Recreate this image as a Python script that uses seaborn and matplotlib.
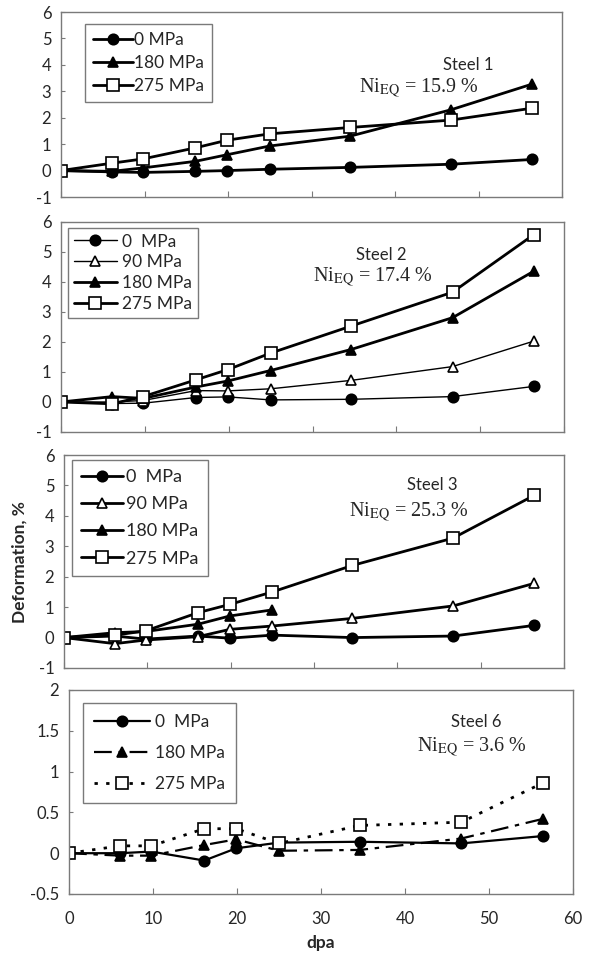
import matplotlib
matplotlib.use('Agg')
import matplotlib.pyplot as plt
import seaborn as sns

# ---------------- data ----------------
dpa = [0, 6.1, 9.8, 16.1, 19.9, 25.0, 34.6, 46.7, 56.4]

s1_0 = [0, -0.05, -0.07, -0.03, 0.0, 0.05, 0.12, 0.24, 0.42]
s1_180 = [0, -0.03, 0.10, 0.35, 0.60, 0.93, 1.30, 2.30, 3.27]
s1_275 = [0, 0.28, 0.44, 0.86, 1.15, 1.39, 1.63, 1.91, 2.36]

s2_0 = [0, -0.05, -0.04, 0.15, 0.17, 0.07, 0.09, 0.18, 0.52]
s2_90 = [0, 0.0, 0.05, 0.38, 0.37, 0.44, 0.72, 1.18, 2.03]
s2_180 = [0, 0.18, 0.12, 0.50, 0.70, 1.05, 1.75, 2.81, 4.36]
s2_275 = [0, -0.06, 0.18, 0.74, 1.08, 1.63, 2.53, 3.66, 5.58]

s3_0 = [0, 0.05, -0.05, 0.05, -0.02, 0.08, 0.0, 0.05, 0.40]
s3_90 = [0, -0.20, -0.08, 0.03, 0.27, 0.38, 0.63, 1.04, 1.78]
s3_180 = [0, 0.16, 0.20, 0.44, 0.71, 0.91]
s3_275 = [0, 0.08, 0.22, 0.82, 1.09, 1.50, 2.37, 3.27, 4.67]

s6_0 = [0, 0.0, 0.02, -0.09, 0.06, 0.13, 0.14, 0.12, 0.21]
s6_180 = [0, -0.03, -0.03, 0.10, 0.17, 0.03, 0.04, 0.18, 0.42]
s6_275 = [0, 0.09, 0.09, 0.30, 0.30, 0.12, 0.34, 0.38, 0.86]

x_ticks = [0, 10, 20, 30, 40, 50, 60]
y_ticks_main = [-1, 0, 1, 2, 3, 4, 5, 6]
y_ticks_s6 = [-0.5, 0, 0.5, 1, 1.5, 2]
y_tick_labels_s6 = ["-0.5", "0", "0.5", "1", "1.5", "2"]

# ---------------- style ----------------
sns.set_theme(style='white')
plt.rcParams['font.family'] = ['Lato', 'DejaVu Sans']
plt.rcParams['mathtext.fontset'] = 'stix'

W, H = 594, 957
fig = plt.figure(figsize=(W / 100, H / 100), dpi=100)
GRAY = '#7a7a7a'


def axes_px(l, r, t, b):
    return fig.add_axes([l / W, 1 - b / H, (r - l) / W, (b - t) / H])


def style_axes(ax, ylim, yticks, ylabels=None, show_x=False):
    ax.set_xlim(0, 60)
    ax.set_ylim(*ylim)
    ax.set_xticks(x_ticks)
    ax.set_yticks(yticks)
    if ylabels is None:
        ylabels = [str(v) for v in yticks]
    ax.set_yticklabels(ylabels)
    if show_x:
        ax.set_xticklabels([str(v) for v in x_ticks])
    else:
        ax.set_xticklabels([])
    for sp in ax.spines.values():
        sp.set_color(GRAY)
        sp.set_linewidth(1.0)
    ax.tick_params(axis='x', direction='in', length=4, width=0.8, color=GRAY,
                   bottom=True, labelsize=12, pad=12)
    ax.tick_params(axis='y', direction='in', length=3, width=0.8, color=GRAY,
                   left=True, labelsize=12, pad=7)
    ax.set_xlabel('')
    ax.set_ylabel('')


def draw(ax, series):
    for lab, vals, mk, mfc, lw, ls, ms in series:
        sns.lineplot(x=dpa[:len(vals)], y=vals, ax=ax, color='black',
                     marker=mk, markerfacecolor=mfc, markeredgecolor='black',
                     markeredgewidth=1.2, markersize=ms, linewidth=lw,
                     linestyle=ls, label=lab)


def legend_px(ax, l, t, fontsize, labelspacing, handlelength, borderpad=0.5,
              handletextpad=0.15):
    lg = ax.legend(loc='upper left', bbox_to_anchor=(l / W, 1 - t / H),
                   bbox_transform=fig.transFigure, borderaxespad=0,
                   fontsize=fontsize, labelspacing=labelspacing,
                   handlelength=handlelength, handletextpad=handletextpad,
                   borderpad=borderpad, fancybox=False, framealpha=1,
                   edgecolor=GRAY)
    lg.get_frame().set_linewidth(1.0)
    return lg


def ftext(x, y, s, **kw):
    fig.text(x / W, 1 - y / H, s, ha='center', va='center', **kw)


NI_KW = dict(fontsize=14.5, family='Liberation Serif')

# ---------------- panel 1 ----------------
ax1 = axes_px(61, 562, 12, 197)
draw(ax1, [
    ('0 MPa', s1_0, 'o', 'black', 2.0, '-', 7.5),
    ('180 MPa', s1_180, '^', 'black', 2.0, '-', 7.5),
    ('275 MPa', s1_275, 's', 'white', 2.0, '-', 8.5),
])
style_axes(ax1, (-1, 6), y_ticks_main)
legend_px(ax1, 85, 24, 12.5, 0.42, 2.3, borderpad=0.45, handletextpad=0.1)
ftext(468, 65, 'Steel 1', fontsize=12)
ftext(419, 88, r'Ni$_{\mathrm{EQ}}$ = 15.9 %', **NI_KW)

# ---------------- panel 2 ----------------
ax2 = axes_px(61, 564, 222, 432)
draw(ax2, [
    ('0  MPa', s2_0, 'o', 'black', 1.0, '-', 7.5),
    ('90 MPa', s2_90, '^', 'white', 1.0, '-', 7.5),
    ('180 MPa', s2_180, '^', 'black', 2.0, '-', 7.5),
    ('275 MPa', s2_275, 's', 'white', 2.0, '-', 8.5),
])
style_axes(ax2, (-1, 6), y_ticks_main)
legend_px(ax2, 68, 228, 12.5, 0.28, 2.5, borderpad=0.32, handletextpad=0.3)
ftext(381, 255, 'Steel 2', fontsize=12)
ftext(373, 277, r'Ni$_{\mathrm{EQ}}$ = 17.4 %', **NI_KW)

# ---------------- panel 3 ----------------
ax3 = axes_px(64, 564, 455, 668)
draw(ax3, [
    ('0  MPa', s3_0, 'o', 'black', 2.0, '-', 7.5),
    ('90 MPa', s3_90, '^', 'white', 2.0, '-', 7.5),
    ('180 MPa', s3_180, '^', 'black', 2.0, '-', 7.5),
    ('275 MPa', s3_275, 's', 'white', 2.0, '-', 8.5),
])
style_axes(ax3, (-1, 6), y_ticks_main)
legend_px(ax3, 72, 460, 13, 0.62, 2.3, borderpad=0.5, handletextpad=0.2)
ftext(432, 485, 'Steel 3', fontsize=12)
ftext(409, 512, r'Ni$_{\mathrm{EQ}}$ = 25.3 %', **NI_KW)

# ---------------- panel 4 ----------------
ax4 = axes_px(69, 573, 690, 894)
draw(ax4, [
    ('0  MPa', s6_0, 'o', 'black', 1.6, '-', 7.5),
    ('180 MPa', s6_180, '^', 'black', 1.6, (0, (8, 3, 2, 3)), 7.0),
    ('275 MPa', s6_275, 's', 'white', 2.0, (0, (1.2, 3)), 8.5),
])
style_axes(ax4, (-0.5, 2), y_ticks_s6, y_tick_labels_s6, show_x=True)
legend_px(ax4, 83, 703, 12.5, 0.85, 3.2, borderpad=0.65, handletextpad=0.3)
ftext(476, 722, 'Steel 6', fontsize=12)
ftext(472, 747, r'Ni$_{\mathrm{EQ}}$ = 3.6 %', **NI_KW)

# axis titles
ftext(20, 562, 'Deformation, %', fontsize=12.5, fontweight='bold', rotation=90)
ftext(321, 943, 'dpa', fontsize=12.5, fontweight='bold')

fig.savefig('out.png', dpi=100, facecolor='white')
